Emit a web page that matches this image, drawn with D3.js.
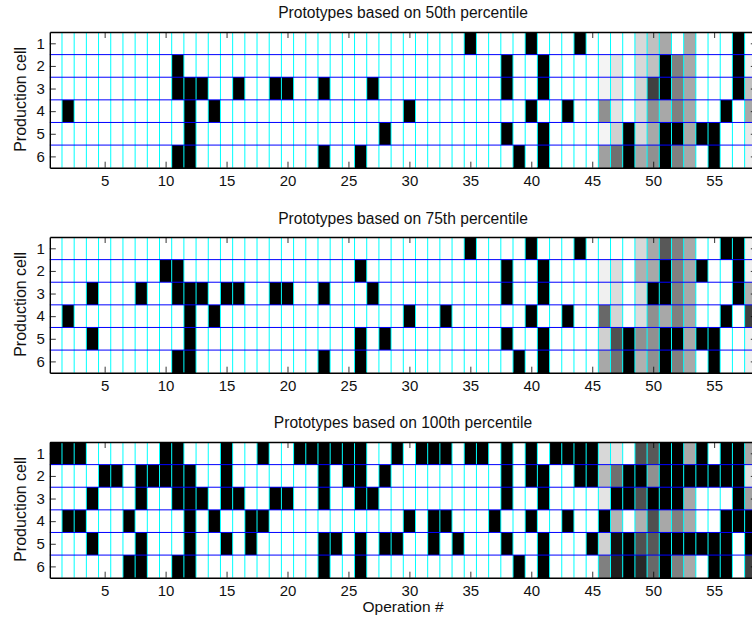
<!DOCTYPE html>
<html>
<head>
<meta charset="utf-8">
<script src="https://cdn.jsdelivr.net/npm/d3@7"></script>
<style>
html,body{margin:0;padding:0;background:#fff;overflow:hidden}
svg{display:block}
text{font-family:"Liberation Sans",Arial,sans-serif;fill:#111}
</style>
</head>
<body>
<svg id="chart" width="752" height="620"></svg>
<script>
const cells = [1, 2, 3, 4, 5, 6];
const xTicks = [5, 10, 15, 20, 25, 30, 35, 40, 45, 50, 55];
const tailOps = [46, 47, 48, 49, 50, 51, 52, 53, 54, 55, 56, 57, 58];
const titles = ["Prototypes based on 50th percentile", "Prototypes based on 75th percentile", "Prototypes based on 100th percentile"];

// operations 1-45: black cells per production cell
const p50Black = [
  [35, 40, 44],
  [11, 38, 41],
  [11, 12, 13, 16, 19, 20, 23, 27, 38, 41],
  [2, 12, 14, 30, 40, 43],
  [12, 28, 38, 41],
  [11, 12, 23, 26, 39, 41]
];
// operations 46-58: grey level per production cell
const p50Tail = [
  [255, 255, 255, 216, 192, 168, 255, 168, 255, 255, 255, 0, 255],
  [244, 226, 255, 216, 192, 0, 128, 168, 255, 255, 255, 0, 240],
  [242, 228, 255, 212, 64, 0, 128, 168, 255, 255, 255, 0, 192],
  [144, 228, 255, 216, 144, 168, 128, 168, 255, 255, 0, 255, 168],
  [244, 208, 0, 216, 168, 0, 0, 168, 0, 0, 255, 255, 232],
  [160, 112, 0, 168, 144, 0, 128, 168, 255, 0, 255, 255, 240]
];

const p75Black = [
  [35, 40, 44],
  [10, 11, 26, 38, 41],
  [4, 8, 11, 12, 13, 15, 16, 19, 20, 23, 27, 38, 41],
  [2, 12, 14, 30, 33, 40, 43],
  [4, 12, 26, 28, 38, 41],
  [11, 12, 23, 26, 39, 41]
];
const p75Tail = [
  [255, 255, 255, 216, 168, 88, 128, 168, 255, 255, 0, 0, 240],
  [240, 220, 255, 176, 168, 0, 128, 168, 0, 255, 255, 0, 240],
  [240, 220, 255, 216, 0, 0, 128, 168, 255, 255, 255, 0, 176],
  [104, 212, 255, 220, 144, 168, 128, 168, 255, 255, 0, 255, 64],
  [208, 80, 0, 144, 144, 0, 0, 168, 0, 0, 255, 255, 240],
  [168, 112, 0, 176, 144, 0, 128, 168, 255, 0, 255, 255, 240]
];

const p100Black = [
  [1, 2, 3, 10, 11, 15, 18, 21, 22, 23, 24, 25, 26, 29, 31, 32, 33, 35, 36, 38, 40, 42, 43, 44, 45],
  [5, 6, 8, 9, 10, 11, 12, 15, 23, 25, 26, 28, 38, 40, 41, 44, 45],
  [4, 8, 11, 12, 13, 15, 16, 19, 20, 23, 26, 27, 38, 41],
  [2, 3, 7, 12, 14, 17, 18, 30, 32, 33, 37, 40, 43],
  [4, 8, 12, 15, 17, 23, 24, 26, 28, 29, 32, 34, 38, 41, 45],
  [7, 8, 11, 12, 23, 26, 39, 41]
];
const p100Tail = [
  [216, 228, 255, 80, 88, 0, 0, 168, 0, 255, 0, 0, 168],
  [184, 112, 0, 0, 144, 0, 0, 0, 0, 0, 0, 0, 224],
  [228, 0, 0, 80, 0, 0, 0, 168, 255, 255, 255, 0, 160],
  [0, 180, 255, 176, 80, 168, 128, 168, 255, 255, 0, 0, 0],
  [208, 16, 0, 80, 88, 0, 0, 0, 0, 0, 0, 255, 0],
  [128, 32, 0, 40, 104, 0, 128, 168, 255, 0, 0, 255, 64]
];

const panels = [
  {title: titles[0], black: p50Black, tail: p50Tail, top: 32, titleY: 18},
  {title: titles[1], black: p75Black, tail: p75Tail, top: 237, titleY: 224},
  {title: titles[2], black: p100Black, tail: p100Tail, top: 442, titleY: 428}
];

const svg = d3.select("#chart");
const left = 49.8, right = 756.8, plotH = 135.7;
const x = d3.scaleLinear().domain([0.5, 58.5]).range([left, right]);
const grey = d3.scaleLinear().domain([0, 255]).range(["#000", "#fff"]);
const boundariesX = d3.range(1.5, 58, 1);
const boundariesY = d3.range(1.5, 6, 1);

panels.forEach(p => {
  const y = d3.scaleLinear().domain([0.5, 6.5]).range([p.top, p.top + plotH]);
  const data = [];
  p.black.forEach((ops, r) => ops.forEach(op => data.push({op, cell: cells[r], level: 0})));
  p.tail.forEach((vals, r) => vals.forEach((level, i) => data.push({op: tailOps[i], cell: cells[r], level})));

  const g = svg.append("g");
  g.selectAll("rect.c").data(data).join("rect")
    .attr("class", "c")
    .attr("shape-rendering", "crispEdges")
    .attr("x", d => x(d.op - 0.5))
    .attr("y", d => y(d.cell - 0.5))
    .attr("width", x(1.5) - x(0.5))
    .attr("height", y(1.5) - y(0.5))
    .attr("fill", d => grey(d.level));

  g.selectAll("line.v").data(boundariesX).join("line")
    .attr("class", "v")
    .attr("x1", d => x(d)).attr("x2", d => x(d))
    .attr("y1", p.top).attr("y2", p.top + plotH)
    .attr("stroke", "#00ffff").attr("stroke-width", 1);

  g.selectAll("line.h").data(boundariesY).join("line")
    .attr("class", "h")
    .attr("x1", left).attr("x2", right)
    .attr("y1", d => y(d)).attr("y2", d => y(d))
    .attr("stroke", "#0000ff").attr("stroke-width", 1);

  const styleAxis = a => {
    a.selectAll("path").attr("stroke", "#000").attr("stroke-width", 1.4);
    a.selectAll("line").attr("stroke", "#000").attr("stroke-width", 0.8);
    a.selectAll("text").attr("font-size", 15).attr("font-family", '"Liberation Sans",Arial,sans-serif').attr("fill", "#111");
  };

  const bottom = g.append("g").attr("transform", `translate(0,${p.top + plotH})`)
    .call(d3.axisBottom(x).tickValues(xTicks).tickSizeInner(-6).tickSizeOuter(0).tickPadding(8));
  styleAxis(bottom);
  const top = g.append("g").attr("transform", `translate(0,${p.top})`)
    .call(d3.axisTop(x).tickValues(xTicks).tickSizeInner(-6).tickSizeOuter(0).tickFormat(""));
  styleAxis(top);
  const lefta = g.append("g").attr("transform", `translate(${left},0)`)
    .call(d3.axisLeft(y).tickValues(cells).tickFormat(d3.format("d")).tickSizeInner(-6).tickSizeOuter(0).tickPadding(5));
  styleAxis(lefta);
  const righta = g.append("g").attr("transform", `translate(${right},0)`)
    .call(d3.axisRight(y).tickValues(cells).tickSizeInner(-6).tickSizeOuter(0).tickFormat(""));
  styleAxis(righta);

  svg.append("text").attr("x", 403).attr("y", p.titleY).attr("text-anchor", "middle")
    .attr("font-size", 15.6).text(p.title);
  svg.append("text")
    .attr("transform", `translate(26,${p.top + plotH / 2 - 0.5}) rotate(-90)`)
    .attr("text-anchor", "middle").attr("font-size", 16).text("Production cell");
});

svg.append("text").attr("x", 403).attr("y", 612).attr("text-anchor", "middle")
  .attr("font-size", 15.5).text("Operation #");
</script>
</body>
</html>
